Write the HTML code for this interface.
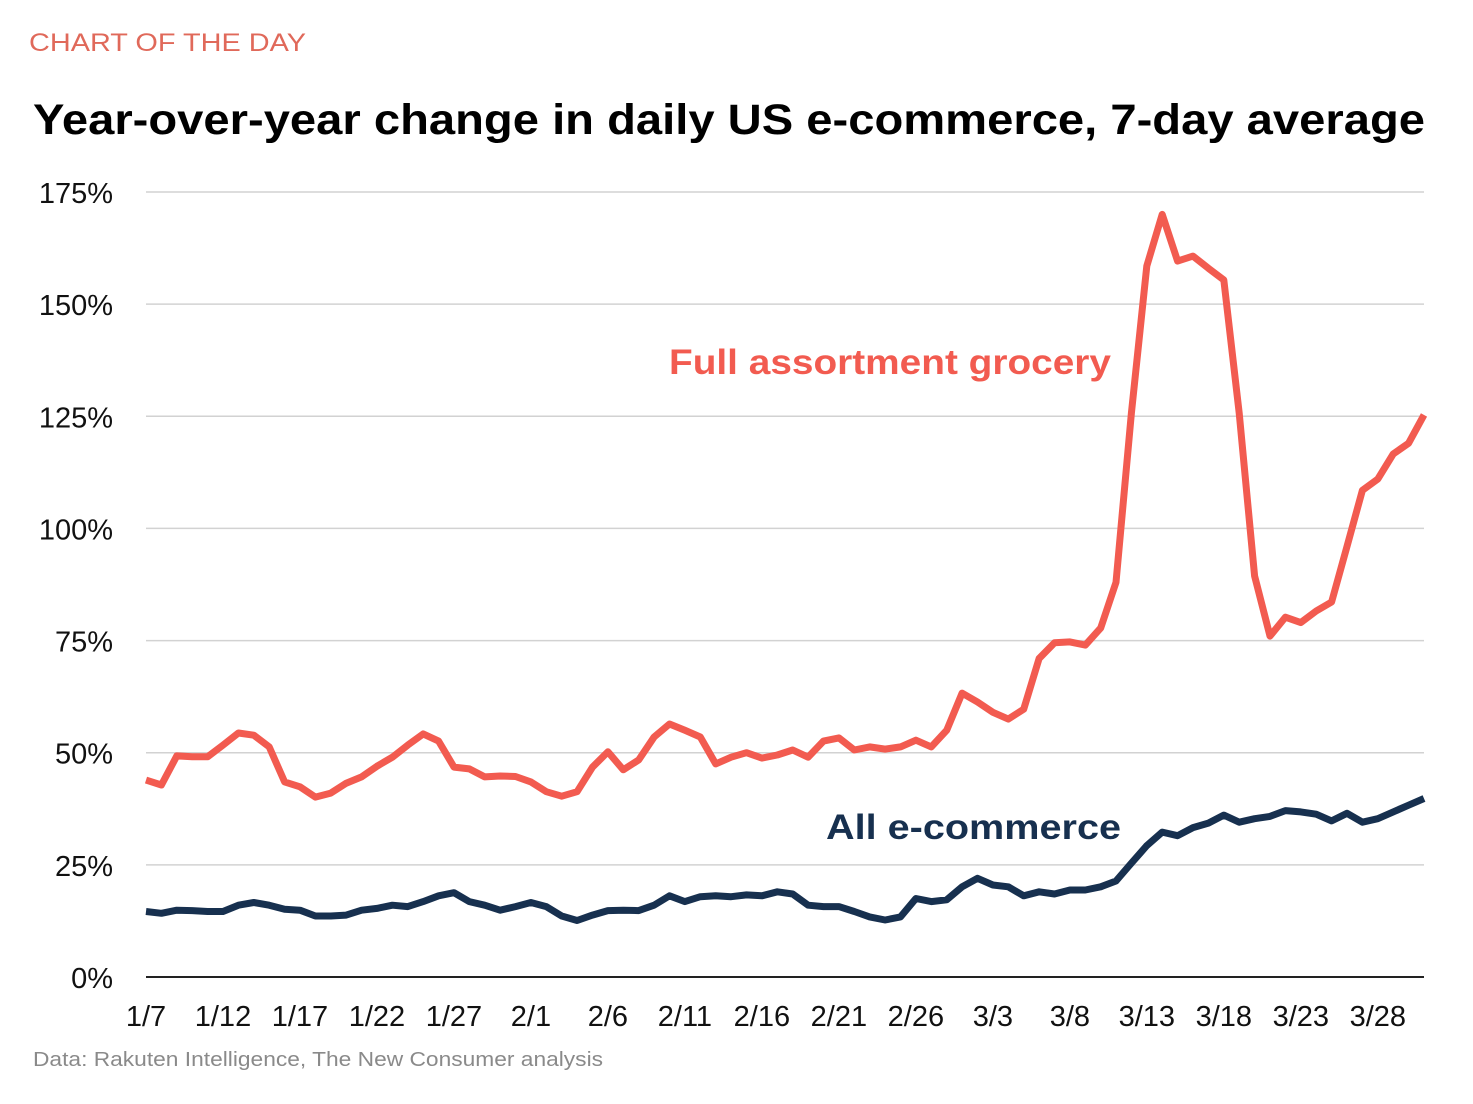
<!DOCTYPE html>
<html><head><meta charset="utf-8"><style>
html,body{margin:0;padding:0;background:#fff;}
svg{display:block;font-family:"Liberation Sans",Arial,sans-serif;}
</style></head><body>
<svg id="chart" width="1473" height="1104" viewBox="0 0 1473 1104">
<text x="29" y="51" font-size="25" fill="#e0695a" textLength="277" lengthAdjust="spacingAndGlyphs">CHART OF THE DAY</text>
<text x="33" y="134" font-size="43" font-weight="bold" fill="#000" textLength="1392" lengthAdjust="spacingAndGlyphs">Year-over-year change in daily US e-commerce, 7-day average</text>
<g id="grid"></g>
<g id="yticks"></g>
<g id="xticks"></g>
<g id="lines"></g>
<text x="669" y="374" font-size="35" font-weight="bold" fill="#f25b50" textLength="442" lengthAdjust="spacingAndGlyphs">Full assortment grocery</text>
<text x="826" y="839" font-size="35" font-weight="bold" fill="#17304f" textLength="295" lengthAdjust="spacingAndGlyphs">All e-commerce</text>
<text x="33" y="1066" font-size="20" fill="#8a8a8a" textLength="570" lengthAdjust="spacingAndGlyphs">Data: Rakuten Intelligence, The New Consumer analysis</text>
</svg>
<script>
const yTicks = [0,25,50,75,100,125,150,175];
const xTickLabels = ["1/7","1/12","1/17","1/22","1/27","2/1","2/6","2/11","2/16","2/21","2/26","3/3","3/8","3/13","3/18","3/23","3/28"];
const xTickIdx = [0,5,10,15,20,25,30,35,40,45,50,55,60,65,70,75,80];
const grocery = [43.9,42.8,49.3,49.1,49.1,51.7,54.4,53.9,51.3,43.5,42.4,40.1,41,43.2,44.6,47,49,51.7,54.2,52.6,46.8,46.4,44.6,44.8,44.7,43.5,41.3,40.3,41.3,46.8,50.2,46.2,48.4,53.5,56.4,55,53.5,47.5,49,50,48.8,49.5,50.6,49,52.6,53.3,50.6,51.3,50.8,51.3,52.8,51.3,55,63.3,61.3,59,57.5,59.7,71,74.5,74.7,74,77.8,88,125.7,158.5,170,159.6,160.7,158,155.4,125.7,89.4,76,80.2,79,81.6,83.6,96,108.5,111,116.6,119,125.3];
const ecommerce = [14.6,14.2,14.9,14.8,14.6,14.6,16,16.6,16,15.1,14.9,13.6,13.6,13.8,14.9,15.3,16,15.7,16.8,18.1,18.8,16.8,16,14.9,15.7,16.6,15.7,13.6,12.6,13.8,14.8,14.9,14.8,16,18.1,16.8,17.9,18.1,17.9,18.3,18.1,19,18.5,16,15.7,15.7,14.6,13.4,12.7,13.4,17.5,16.8,17.2,20.1,22,20.5,20.1,18.1,19,18.5,19.4,19.4,20.1,21.4,25.4,29.3,32.3,31.5,33.3,34.3,36.1,34.5,35.3,35.8,37.1,36.8,36.3,34.8,36.5,34.5,35.3,36.8,38.3,39.8];

const NS='http://www.w3.org/2000/svg';
const X0=146,X1=1424,Y0=977,Y1=192;
const n=grocery.length;
function xs(i){return X0+(X1-X0)*i/(n-1);}
function ys(v){return Y0-(Y0-Y1)*v/175;}
function mk(tag,attrs,parent){const e=document.createElementNS(NS,tag);for(const k in attrs)e.setAttribute(k,attrs[k]);parent.appendChild(e);return e;}
const grid=document.getElementById('grid'),yt=document.getElementById('yticks'),xt=document.getElementById('xticks'),lines=document.getElementById('lines');
yTicks.forEach(v=>{
  const l=mk('line',{x1:X0,x2:X1,y1:ys(v),y2:ys(v),stroke:v===0?'#222':'#d2d2d2','stroke-width':v===0?2:1.5},grid);
  
  
  const t=mk('text',{x:113,y:ys(v)+11,'text-anchor':'end','font-size':29,fill:'#111'},yt);
  t.textContent=v+'%';
  
  
});
xTickLabels.forEach((lab,k)=>{
  const t=mk('text',{x:xs(xTickIdx[k]),y:1026,'text-anchor':'middle','font-size':29,fill:'#111'},xt);
  t.textContent=lab;
  
  
});
function path(arr){return arr.map((v,i)=>(i?'L':'M')+xs(i).toFixed(1)+' '+ys(v).toFixed(1)).join(' ');}
const pe=mk('path',{d:path(ecommerce),fill:'none',stroke:'#17304f','stroke-width':7,'stroke-linejoin':'round'},lines);


const pg=mk('path',{d:path(grocery),fill:'none',stroke:'#f25b50','stroke-width':7,'stroke-linejoin':'round'},lines);


</script>
</body></html>
